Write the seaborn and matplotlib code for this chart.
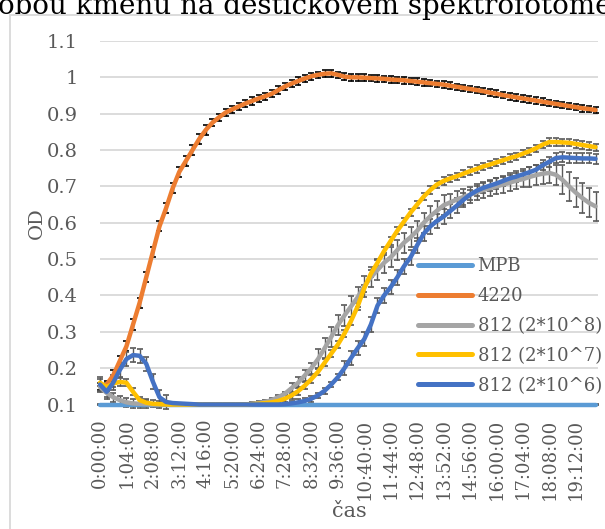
import numpy as np
import pandas as pd
import matplotlib
matplotlib.use("Agg")
import matplotlib.pyplot as plt
from matplotlib.patches import Rectangle
import seaborn as sns

# time grid in minutes (one reading every 16 min)
minutes = list(range(0, 1201, 16))

mpb = [0.1] * 76

od_4220 = [0.15, 0.155, 0.18, 0.22, 0.26, 0.32, 0.38, 0.45, 0.52, 0.59,
           0.64, 0.695, 0.74, 0.77, 0.80, 0.83, 0.855, 0.875, 0.89, 0.903,
           0.912, 0.92, 0.928, 0.935, 0.942, 0.948, 0.955, 0.965, 0.975, 0.983,
           0.99, 0.997, 1.003, 1.007, 1.010, 1.011, 1.007, 1.002, 1.0, 1.0,
           0.999, 0.998, 0.997, 0.996, 0.994, 0.993, 0.992, 0.99, 0.988, 0.986,
           0.984, 0.982, 0.98, 0.977, 0.974, 0.971, 0.968, 0.965, 0.962, 0.958,
           0.955, 0.951, 0.948, 0.945, 0.942, 0.939, 0.936, 0.933, 0.93, 0.927,
           0.924, 0.921, 0.918, 0.915, 0.913, 0.91]

od_812_8 = [0.148, 0.132, 0.12, 0.112, 0.106, 0.103, 0.102, 0.101] + [0.1] * 15 + \
           [0.102, 0.104, 0.107, 0.112, 0.12, 0.13, 0.145, 0.16, 0.18, 0.2,
            0.225, 0.255, 0.286, 0.318, 0.345, 0.37, 0.395, 0.425, 0.45, 0.47,
            0.49, 0.505, 0.525, 0.545, 0.56, 0.578, 0.6, 0.618, 0.633, 0.648,
            0.656, 0.664, 0.671, 0.677, 0.684, 0.69, 0.695, 0.7, 0.705, 0.71,
            0.716, 0.72, 0.726, 0.731, 0.735, 0.737, 0.732, 0.718, 0.7, 0.683,
            0.668, 0.655, 0.645]

od_812_7 = [0.16, 0.148, 0.158, 0.162, 0.16, 0.135, 0.112, 0.105, 0.102, 0.101] + [0.1] * 13 + \
           [0.101, 0.102, 0.104, 0.106, 0.11, 0.116, 0.125, 0.137, 0.152, 0.17,
            0.19, 0.215, 0.24, 0.265, 0.295, 0.33, 0.37, 0.42, 0.46, 0.49,
            0.522, 0.55, 0.578, 0.603, 0.628, 0.65, 0.672, 0.69, 0.705, 0.715,
            0.722, 0.728, 0.735, 0.742, 0.748, 0.755, 0.76, 0.766, 0.772, 0.778,
            0.783, 0.79, 0.797, 0.805, 0.815, 0.822, 0.822, 0.821, 0.82, 0.817,
            0.814, 0.811, 0.808]

od_812_6 = [0.155, 0.135, 0.16, 0.195, 0.225, 0.236, 0.234, 0.212, 0.163, 0.12,
            0.107, 0.104, 0.103, 0.102, 0.101] + [0.1] * 13 + \
           [0.101, 0.103, 0.106, 0.11, 0.116, 0.125, 0.138, 0.155, 0.175, 0.2,
            0.228, 0.255, 0.28, 0.32, 0.372, 0.40, 0.423, 0.45, 0.48, 0.505,
            0.538, 0.57, 0.59, 0.605, 0.617, 0.632, 0.647, 0.663, 0.677, 0.688,
            0.696, 0.702, 0.708, 0.715, 0.722, 0.727, 0.733, 0.739, 0.746, 0.758,
            0.768, 0.778, 0.78, 0.779, 0.778, 0.777, 0.777, 0.776]

# standard deviations
sd_mpb = [0.001] * 76
sd_4220 = [0.01] * 2 + [0.014] * 15 + [0.01] * 14 + [0.009] * 45
sd_812_8 = [0.012] * 8 + [0.002] * 15 + [0.005] * 6 + [0.015] * 4 + [0.028] * 20 + \
           [0.022] * 12 + [0.028] * 5 + [0.04] * 6
sd_812_7 = [0.01] * 10 + [0.004] * 18 + [0.01] * 48
sd_812_6 = [0.02] * 11 + [0.002] * 18 + [0.008] * 8 + [0.02] * 19 + [0.014] * 20

labels = ["MPB", "4220", "812 (2*10^8)", "812 (2*10^7)", "812 (2*10^6)"]
colors = ["#5B9BD5", "#ED7D31", "#A5A5A5", "#FFC000", "#4472C4"]
err_colors = ["#595959", "#000000", "#595959", "#595959", "#595959"]

tick_minutes = [0, 64, 128, 192, 256, 320, 384, 448, 512, 576,
                640, 704, 768, 832, 896, 960, 1024, 1088, 1152]
tick_labels = ["0:00:00", "1:04:00", "2:08:00", "3:12:00", "4:16:00", "5:20:00",
               "6:24:00", "7:28:00", "8:32:00", "9:36:00", "10:40:00", "11:44:00",
               "12:48:00", "13:52:00", "14:56:00", "16:00:00", "17:04:00",
               "18:08:00", "19:12:00"]
y_ticks = [0.1, 0.2, 0.3, 0.4, 0.5, 0.6, 0.7, 0.8, 0.9, 1.0, 1.1]

series = [mpb, od_4220, od_812_8, od_812_7, od_812_6]
errors = [sd_mpb, sd_4220, sd_812_8, sd_812_7, sd_812_6]

df = pd.concat([pd.DataFrame({"cas": minutes, "OD": s, "sd": e, "kmen": lab})
                for s, e, lab in zip(series, errors, labels)], ignore_index=True)

sns.set_style("white")
plt.rcParams["font.family"] = ["DejaVu Serif"]

GREY_TXT = "#595959"
W, H = 605, 529
fig = plt.figure(figsize=(W / 100, H / 100), dpi=100)
ax = fig.add_axes([100 / W, 1 - 404.5 / H, 498 / W, 363.5 / H])

for i, lab in enumerate(labels):
    d = df[df["kmen"] == lab]
    ax.errorbar(d["cas"], d["OD"], yerr=d["sd"], fmt="none", ecolor=err_colors[i],
                elinewidth=1.0, capsize=2.0, capthick=1.2, zorder=2 + i * 2, clip_on=False)

sns.lineplot(data=df, x="cas", y="OD", hue="kmen", hue_order=labels,
             palette=colors, linewidth=3.2, ax=ax, zorder=5, clip_on=False,
             legend=False)
for i, line in enumerate(ax.lines):
    line.set_zorder(3 + i * 2)
    line.set_solid_capstyle("round")

ax.set_xlim(0, 1206)
ax.set_ylim(0.1, 1.1)
ax.set_yticks(y_ticks)
ax.set_yticklabels([f"{v:g}" for v in y_ticks])
ax.set_xticks(tick_minutes)
ax.set_xticklabels(tick_labels, rotation=90)
ax.tick_params(axis="both", length=0, labelcolor=GREY_TXT)
ax.tick_params(axis="y", pad=16, labelsize=14)
ax.tick_params(axis="x", pad=10, labelsize=13)
ax.yaxis.grid(True, color="#D9D9D9", linewidth=1.3)
ax.set_axisbelow(True)
for side in ["top", "right", "left"]:
    ax.spines[side].set_visible(False)
ax.spines["bottom"].set_color("#D9D9D9")
ax.set_xlabel("čas", fontsize=15, color=GREY_TXT)
ax.set_ylabel("OD", fontsize=14, color=GREY_TXT)
ax.yaxis.set_label_coords(-54 / 498, 0.5)
ax.xaxis.set_label_coords(0.5, -(502 - 404.5) / 363.5)

handles = [plt.Line2D([], [], color=c, linewidth=3.6, solid_capstyle="round") for c in colors]
leg = fig.legend(handles, labels, loc="upper left", bbox_to_anchor=(418 / W, 1 - 257 / H),
                 frameon=False, fontsize=13, handlelength=3.0, handletextpad=0.3,
                 labelspacing=0.66, borderaxespad=0, borderpad=0)
for t in leg.get_texts():
    t.set_color(GREY_TXT)

# chart frame and the cropped caption above it
fig.add_artist(Rectangle((10 / W, -0.1), 2, 1.1 - 15 / H, transform=fig.transFigure,
                         fill=False, edgecolor="#D9D9D9", linewidth=1.3))
fig.text(-0.003, 1 - 14.5 / H, "obou kmenů na destičkovém spektrofotometru",
         fontsize=20, color="black", va="baseline", ha="left")

fig.savefig("out.png", dpi=100)
